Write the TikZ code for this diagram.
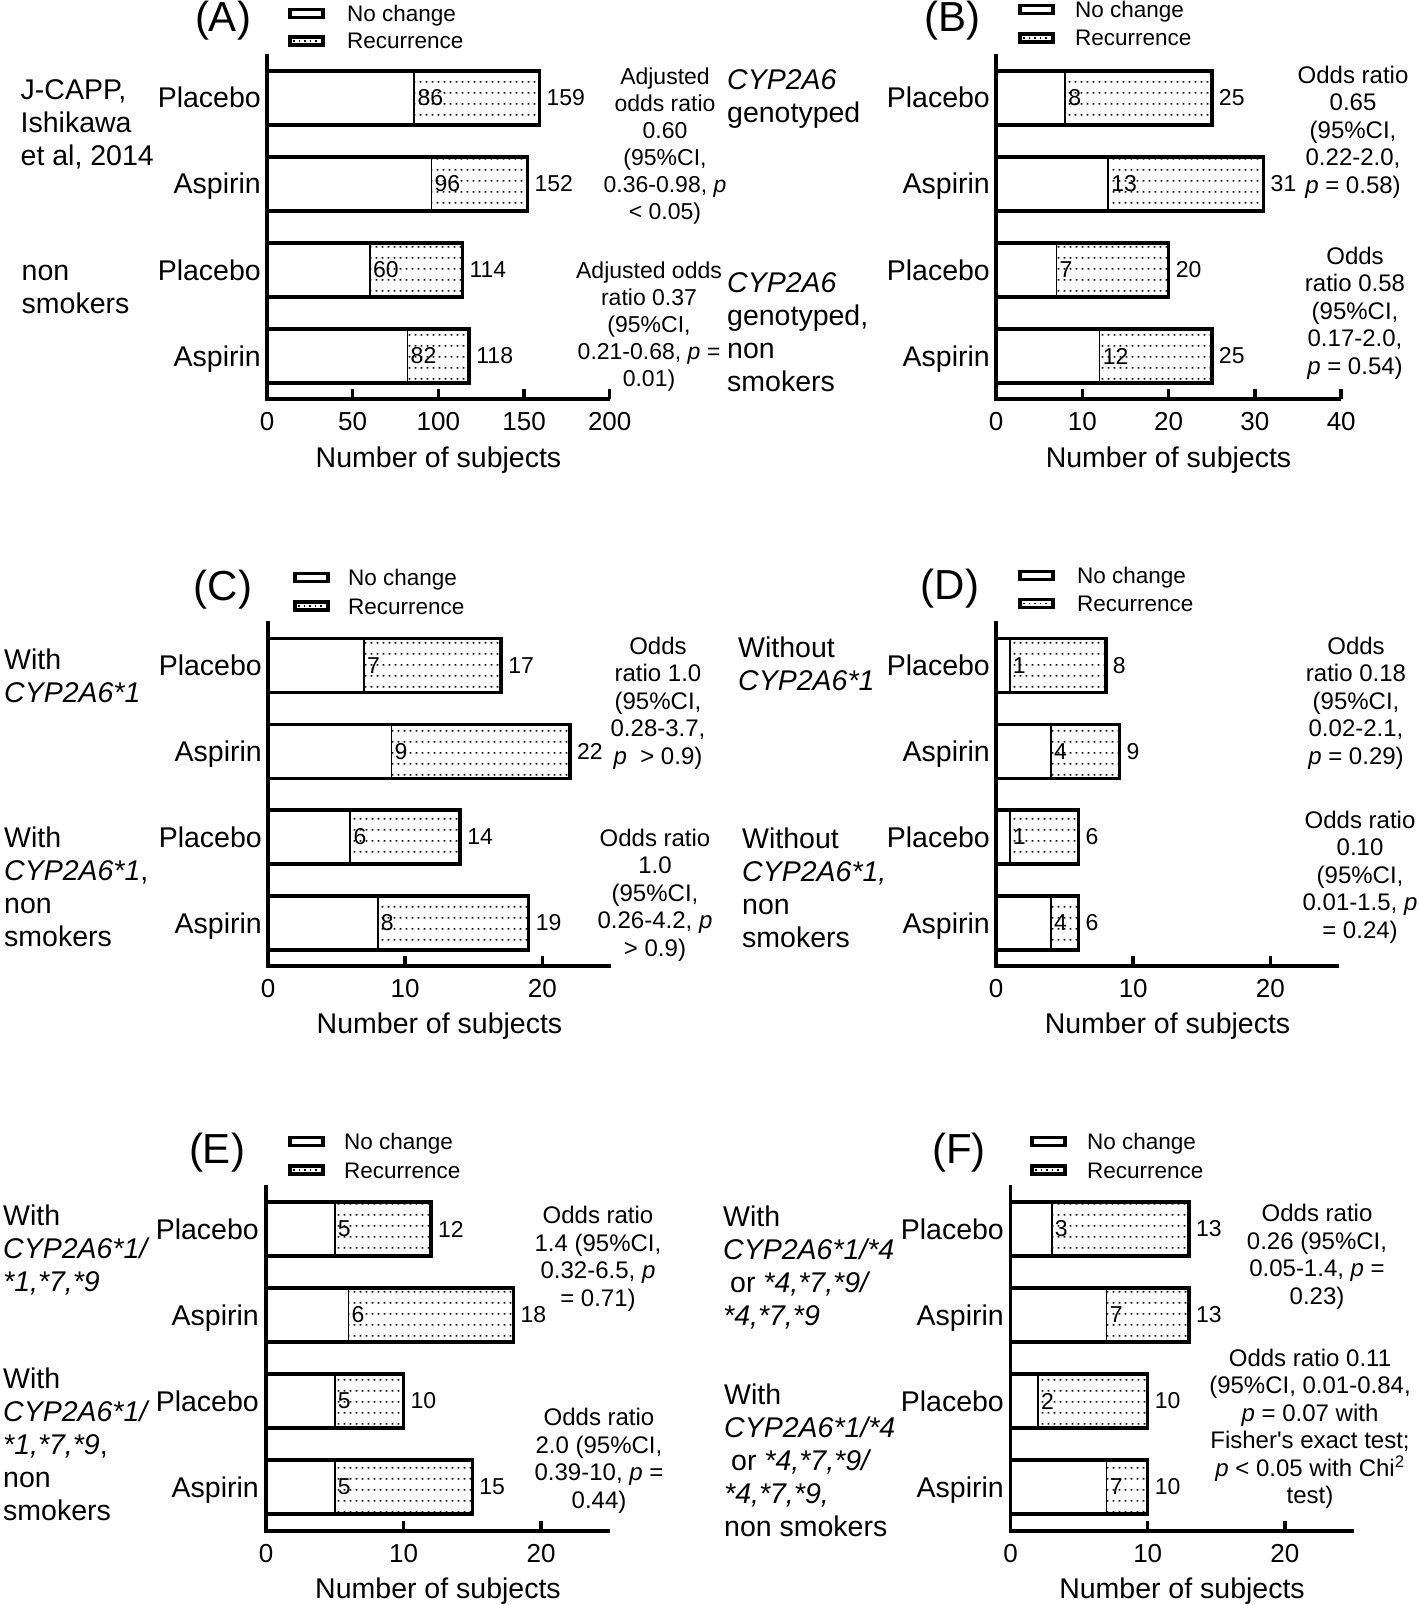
\documentclass[tikz,border=0pt]{standalone}
\usepackage{fontspec}
\newfontfamily\lsans{Liberation Sans}
\usetikzlibrary{patterns}
\pgfdeclarepatternformonly{mydots}{\pgfpointorigin}{\pgfpoint{5.5pt}{11pt}}{\pgfpoint{5.5pt}{11pt}}{%
  \pgfpathrectangle{\pgfpoint{1.85pt}{4.6pt}}{\pgfpoint{1.8pt}{1.8pt}}\pgfusepath{fill}}

\tikzset{
  catlab/.style={font=\lsans\fontsize{28.5}{32.5}\selectfont, inner sep=0pt, anchor=base east},
  desc/.style={font=\lsans\fontsize{28.5}{33}\selectfont, inner sep=0pt, align=left, anchor=west},
  stat/.style={font=\lsans\fontsize{24}{27.5}\selectfont, inner sep=0pt, align=center},
  statA/.style={font=\lsans\fontsize{23}{27}\selectfont, inner sep=0pt, align=center},
  val/.style={font=\lsans\fontsize{23}{25}\selectfont, inner sep=0pt, anchor=west},
  leg/.style={font=\lsans\fontsize{22.5}{25}\selectfont, inner sep=0pt, anchor=base west},
  plet/.style={font=\lsans\fontsize{42}{46}\selectfont, inner sep=0pt},
  tickl/.style={font=\lsans\fontsize{26}{28}\selectfont, inner sep=0pt},
  axl/.style={font=\lsans\fontsize{28.5}{32}\selectfont, inner sep=0pt},
  axisline/.style={line width=3.5pt},
  barline/.style={line width=3.5pt},
  divline/.style={line width=1.8pt},
}

% bar: name, x0, scale, yc, split, total
\newcommand{\mybar}[6]{%
  \pgfmathsetmacro{\mybxs}{#2+#5*#3}%
  \pgfmathsetmacro{\mybxe}{#2+#6*#3}%
  \fill[pattern=mydots] (\mybxs,{#4-27}) rectangle (\mybxe,{#4+27});
  \draw[divline] (\mybxs,{#4-27}) -- (\mybxs,{#4+27});
  \draw[barline] (#2,{#4-27}) rectangle (\mybxe,{#4+27});
  \node[val] (#1in) at ({\mybxs+3},#4) {#5};
  \node[val] (#1out) at ({\mybxe+7},#4) {#6};
}
% axis: name, x0, scale, top, axis y, max, ticks
\newcommand{\myaxis}[7]{%
  \draw[axisline] (#2,#4) -- (#2,#5) -- ({#2+#6*#3},#5);
  \foreach \tk in {#7}{%
    \draw[axisline] ({#2+\tk*#3},#5) -- ({#2+\tk*#3},{#5-10});
    \node[tickl] (#1t\tk) at ({#2+\tk*#3},{#5+23}) {\tk};
  }
}
% legend: name, box x, y1, y2, text x
\newcommand{\mylegend}[5]{%
  \draw[barline] (#2,{#3-4}) rectangle ({#2+33},{#3+4});
  \draw[barline] (#2,{#4-4}) rectangle ({#2+33},{#4+4});
  \draw[line width=1.6pt, dash pattern=on 1.6pt off 3.9pt] ({#2+3},#4) -- ({#2+30},#4);
  \node[leg] (#1nc) at (#5,{#3+8}) {No change};
  \node[leg] (#1rec) at (#5,{#4+8}) {Recurrence};
}

\begin{document}
\begin{tikzpicture}[x=1pt,y=-1pt,line join=miter]
\useasboundingbox (0,0) rectangle (1418,1605);
\fill[white] (0,0) rectangle (1418,1605);

% ---------------- Panel A ----------------
\node[plet] (Alet) at (223,21) {(A)};
\mylegend{Aleg}{290}{13.5}{41}{347}
\myaxis{Aax}{267}{1.7135}{54}{399}{200}{0,50,100,150,200}
\node[axl] (Axl) at (438.5,460) {Number of subjects};
\node[catlab] (Ac1) at (261,108) {Placebo};
\node[catlab] (Ac2) at (261,194) {Aspirin};
\node[catlab] (Ac3) at (261,280) {Placebo};
\node[catlab] (Ac4) at (261,366) {Aspirin};
\mybar{Ab1}{267}{1.7135}{98}{86}{159}
\mybar{Ab2}{267}{1.7135}{184}{96}{152}
\mybar{Ab3}{267}{1.7135}{270}{60}{114}
\mybar{Ab4}{267}{1.7135}{356}{82}{118}
\node[desc] (Ad1) at (20.5,124) {J-CAPP,\\Ishikawa\\et al, 2014};
\node[desc] (Ad2) at (21.5,289) {non\\smokers};
\node[desc] (Ad3) at (727,99) {\textit{CYP2A6}\\genotyped};
\node[desc] (Ad4) at (727,332) {\textit{CYP2A6}\\genotyped,\\non\\smokers};
\node[statA] (As1) at (665,146) {Adjusted\\odds ratio\\0.60\\(95\%CI,\\0.36-0.98, \textit{p}\\< 0.05)};
\node[statA] (As2) at (649,327) {Adjusted odds\\ratio 0.37\\(95\%CI,\\0.21-0.68, \textit{p} =\\0.01)};

% ---------------- Panel B ----------------
\node[plet] (Blet) at (952,21) {(B)};
\mylegend{Bleg}{1020}{9.5}{38}{1075}
\myaxis{Bax}{996}{8.63}{54}{399}{40}{0,10,20,30,40}
\node[axl] (Bxl) at (1168.5,460) {Number of subjects};
\node[catlab] (Bc1) at (990,108) {Placebo};
\node[catlab] (Bc2) at (990,194) {Aspirin};
\node[catlab] (Bc3) at (990,280) {Placebo};
\node[catlab] (Bc4) at (990,366) {Aspirin};
\mybar{Bb1}{996}{8.63}{98}{8}{25}
\mybar{Bb2}{996}{8.63}{184}{13}{31}
\mybar{Bb3}{996}{8.63}{270}{7}{20}
\mybar{Bb4}{996}{8.63}{356}{12}{25}
\node[stat] (Bs1) at (1353,132) {Odds ratio\\0.65\\(95\%CI,\\0.22-2.0,\\\textit{p} = 0.58)};
\node[stat] (Bs2) at (1355,313) {Odds\\ratio 0.58\\(95\%CI,\\0.17-2.0,\\\textit{p} = 0.54)};

% ---------------- Panel C ----------------
\node[plet] (Clet) at (223,590) {(C)};
\mylegend{Cleg}{295}{577.5}{606}{348}
\myaxis{Cax}{268}{13.72}{621}{966}{25}{0,10,20}
\node[axl] (Cxl) at (439.5,1026) {Number of subjects};
\node[catlab] (Cc1) at (262,675.5) {Placebo};
\node[catlab] (Cc2) at (262,761.5) {Aspirin};
\node[catlab] (Cc3) at (262,847) {Placebo};
\node[catlab] (Cc4) at (262,933) {Aspirin};
\mybar{Cb1}{268}{13.72}{665.5}{7}{17}
\mybar{Cb2}{268}{13.72}{751.5}{9}{22}
\mybar{Cb3}{268}{13.72}{837}{6}{14}
\mybar{Cb4}{268}{13.72}{923}{8}{19}
\node[desc] (Cd1) at (4,676) {With\\\textit{CYP2A6*1}};
\node[desc] (Cd2) at (4,887) {With\\\textit{CYP2A6*1},\\non\\smokers};
\node[stat] (Cs1) at (658,703) {Odds\\ratio 1.0\\(95\%CI,\\0.28-3.7,\\\textit{p}\ \ > 0.9)};
\node[stat] (Cs2) at (655,895) {Odds ratio\\1.0\\(95\%CI,\\0.26-4.2, \textit{p}\\> 0.9)};

% ---------------- Panel D ----------------
\node[plet] (Dlet) at (950,589) {(D)};
\mylegend{Dleg}{1020}{575.5}{603.5}{1077}
\myaxis{Dax}{996}{13.72}{621}{966}{25}{0,10,20}
\node[axl] (Dxl) at (1167.5,1026) {Number of subjects};
\node[catlab] (Dc1) at (990,675.5) {Placebo};
\node[catlab] (Dc2) at (990,761.5) {Aspirin};
\node[catlab] (Dc3) at (990,847) {Placebo};
\node[catlab] (Dc4) at (990,933) {Aspirin};
\mybar{Db1}{996}{13.72}{665.5}{1}{8}
\mybar{Db2}{996}{13.72}{751.5}{4}{9}
\mybar{Db3}{996}{13.72}{837}{1}{6}
\mybar{Db4}{996}{13.72}{923}{4}{6}
\node[desc] (Dd1) at (738,664) {Without\\\textit{CYP2A6*1}};
\node[desc] (Dd2) at (742,888) {Without\\\textit{CYP2A6*1,}\\non\\smokers};
\node[stat] (Ds1) at (1356,703) {Odds\\ratio 0.18\\(95\%CI,\\0.02-2.1,\\\textit{p} = 0.29)};
\node[stat] (Ds2) at (1360,877) {Odds ratio\\0.10\\(95\%CI,\\0.01-1.5, \textit{p}\\= 0.24)};

% ---------------- Panel E ----------------
\node[plet] (Elet) at (217,1153) {(E)};
\mylegend{Eleg}{290}{1141.5}{1170}{344}
\myaxis{Eax}{266}{13.75}{1185}{1531}{25}{0,10,20}
\node[axl] (Exl) at (438,1591) {Number of subjects};
\node[catlab] (Ec1) at (259,1239) {Placebo};
\node[catlab] (Ec2) at (259,1325) {Aspirin};
\node[catlab] (Ec3) at (259,1411) {Placebo};
\node[catlab] (Ec4) at (259,1497) {Aspirin};
\mybar{Eb1}{266}{13.75}{1229}{5}{12}
\mybar{Eb2}{266}{13.75}{1315}{6}{18}
\mybar{Eb3}{266}{13.75}{1401}{5}{10}
\mybar{Eb4}{266}{13.75}{1487}{5}{15}
\node[desc] (Ed1) at (3,1250) {With\\\textit{CYP2A6*1/}\\\textit{*1,*7,*9}};
\node[desc] (Ed2) at (3,1444) {With\\\textit{CYP2A6*1/}\\\textit{*1,*7,*9},\\non\\smokers};
\node[stat] (Es1) at (598,1259) {Odds ratio\\1.4 (95\%CI,\\0.32-6.5, \textit{p}\\= 0.71)};
\node[stat] (Es2) at (599,1461) {Odds ratio\\2.0 (95\%CI,\\0.39-10, \textit{p} =\\0.44)};

% ---------------- Panel F ----------------
\node[plet] (Flet) at (959,1153) {(F)};
\mylegend{Fleg}{1032}{1141.5}{1170}{1087}
\myaxis{Fax}{1010.5}{13.72}{1185}{1531}{25}{0,10,20}
\node[axl] (Fxl) at (1182,1591) {Number of subjects};
\node[catlab] (Fc1) at (1004,1239) {Placebo};
\node[catlab] (Fc2) at (1004,1325) {Aspirin};
\node[catlab] (Fc3) at (1004,1411) {Placebo};
\node[catlab] (Fc4) at (1004,1497) {Aspirin};
\mybar{Fb1}{1010.5}{13.72}{1229}{3}{13}
\mybar{Fb2}{1010.5}{13.72}{1315}{7}{13}
\mybar{Fb3}{1010.5}{13.72}{1401}{2}{10}
\mybar{Fb4}{1010.5}{13.72}{1487}{7}{10}
\node[desc] (Fd1) at (723,1267) {With\\\textit{CYP2A6*1/*4}\\\hspace{7pt}or \textit{*4,*7,*9/}\\\textit{*4,*7,*9}};
\node[desc] (Fd2) at (724,1460) {With\\\textit{CYP2A6*1/*4}\\\hspace{7pt}or \textit{*4,*7,*9/}\\\textit{*4,*7,*9,}\\non smokers};
\node[stat] (Fs1) at (1317,1257) {Odds ratio\\0.26 (95\%CI,\\0.05-1.4, \textit{p} =\\0.23)};
\node[stat] (Fs2) at (1310,1429) {Odds ratio 0.11\\(95\%CI, 0.01-0.84,\\\textit{p} = 0.07 with\\Fisher's exact test;\\\textit{p} < 0.05 with Chi\textsuperscript{2}\\test)};
\end{tikzpicture}
\end{document}
